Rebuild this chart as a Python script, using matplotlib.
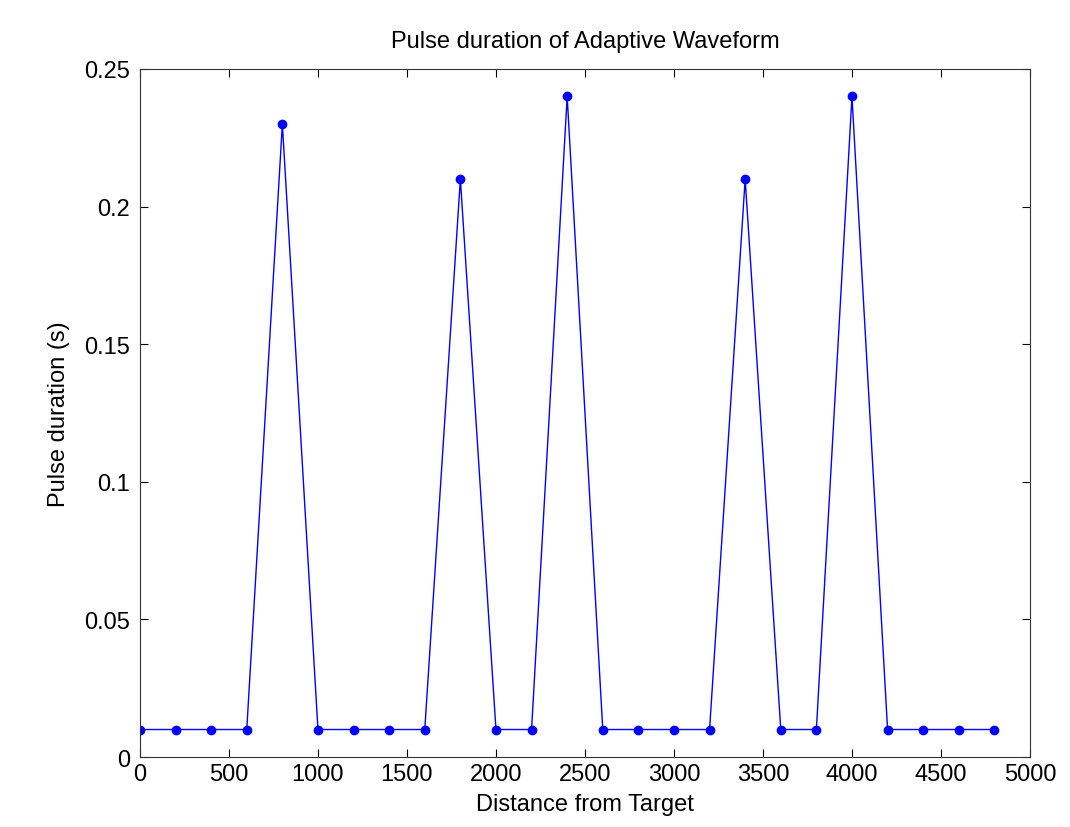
import matplotlib
matplotlib.use('Agg')
import matplotlib.pyplot as plt

# distance samples and pulse duration values
distance = [0, 200, 400, 600, 800, 1000, 1200, 1400, 1600, 1800, 2000, 2200, 2400,
            2600, 2800, 3000, 3200, 3400, 3600, 3800, 4000, 4200, 4400, 4600, 4800]
pulse = [0.01, 0.01, 0.01, 0.01, 0.23, 0.01, 0.01, 0.01, 0.01, 0.21, 0.01, 0.01, 0.24,
         0.01, 0.01, 0.01, 0.01, 0.21, 0.01, 0.01, 0.24, 0.01, 0.01, 0.01, 0.01]

xticks = [0, 500, 1000, 1500, 2000, 2500, 3000, 3500, 4000, 4500, 5000]
yticks = [0, 0.05, 0.1, 0.15, 0.2, 0.25]
ytick_labels = ['0', '0.05', '0.1', '0.15', '0.2', '0.25']

plt.rcParams['font.family'] = ['Liberation Sans', 'DejaVu Sans']

fig = plt.figure(figsize=(10.7, 8.28), dpi=100)
ax = fig.add_axes([0.1308, 0.0845, 0.8318, 0.831])

ax.plot(distance, pulse, color='#0000ff', linewidth=1.0, marker='o', markersize=6)

ax.set_xlim(0, 5000)
ax.set_ylim(0, 0.25)
ax.set_xticks(xticks)
ax.set_xticklabels([str(t) for t in xticks])
ax.set_yticks(yticks)
ax.set_yticklabels(ytick_labels)
ax.tick_params(direction='in', top=True, right=True, labelsize=17, length=6)
ax.tick_params(axis='y', pad=7)
ax.tick_params(axis='x', pad=4)
for s in ax.spines.values():
    s.set_color('#333333')

ax.set_xlabel('Distance from Target', fontsize=17, labelpad=6)
ax.set_ylabel('Pulse duration (s)', fontsize=17, labelpad=10)
ax.set_title('Pulse duration of Adaptive Waveform', fontsize=17, pad=16)

fig.savefig('out.png', dpi=100, facecolor='white')
